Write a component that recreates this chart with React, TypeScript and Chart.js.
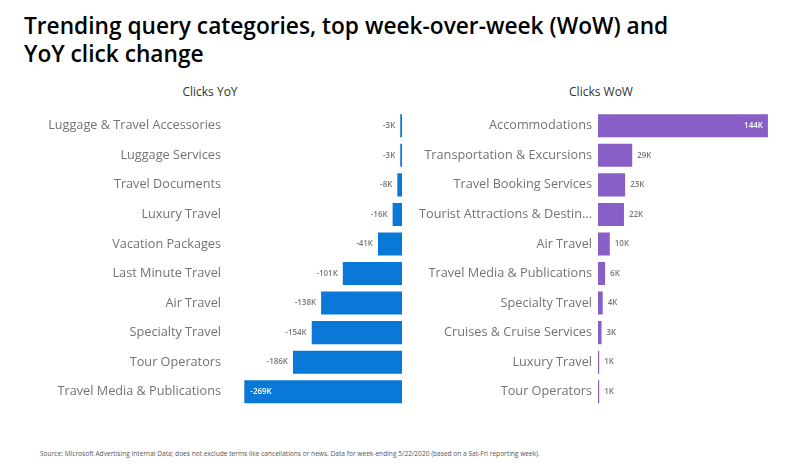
import React, { useEffect, useRef } from "react";
import { Chart, registerables } from "chart.js";

Chart.register(...registerables);

const titleLine1 = "Trending query categories, top week-over-week (WoW) and";
const titleLine2 = "YoY click change";
const yoyTitle = "Clicks YoY";
const wowTitle = "Clicks WoW";
const footnote =
  "Source: Microsoft Advertising Internal Data; does not exclude terms like cancellations or news.  Data for week-ending 5/22/2020 (based on a Sat-Fri reporting week).";

const yoyCategories = [
  "Luggage & Travel Accessories",
  "Luggage Services",
  "Travel Documents",
  "Luxury Travel",
  "Vacation Packages",
  "Last Minute Travel",
  "Air Travel",
  "Specialty Travel",
  "Tour Operators",
  "Travel Media & Publications",
];
const yoyValues = [-3, -3, -8, -16, -41, -101, -138, -154, -186, -269];

const wowCategories = [
  "Accommodations",
  "Transportation & Excursions",
  "Travel Booking Services",
  "Tourist Attractions & Destin...",
  "Air Travel",
  "Travel Media & Publications",
  "Specialty Travel",
  "Cruises & Cruise Services",
  "Luxury Travel",
  "Tour Operators",
];
const wowValues = [144, 29, 23, 22, 10, 6, 4, 3, 1, 1];

const FONT = "'Open Sans', 'Noto Sans', sans-serif";

const valueLabelPlugin = {
  id: "valueLabels",
  afterDatasetsDraw(chart: any) {
    const ctx = chart.ctx;
    const area = chart.chartArea;
    const meta = chart.getDatasetMeta(0);
    const data = chart.data.datasets[0].data as number[];
    ctx.save();
    ctx.font = `600 8px ${FONT}`;
    ctx.textBaseline = "middle";
    meta.data.forEach((bar: any, i: number) => {
      const v = data[i];
      const text = `${v}K`;
      const w = ctx.measureText(text).width;
      const gap = 5;
      if (v < 0) {
        const outsideX = bar.x - gap;
        if (outsideX - w < area.left) {
          ctx.fillStyle = "#ffffff";
          ctx.textAlign = "left";
          ctx.fillText(text, bar.x + gap + 1, bar.y);
        } else {
          ctx.fillStyle = "#777777";
          ctx.textAlign = "right";
          ctx.fillText(text, outsideX, bar.y);
        }
      } else {
        const outsideX = bar.x + gap;
        if (outsideX + w > area.right) {
          ctx.fillStyle = "#ffffff";
          ctx.textAlign = "right";
          ctx.fillText(text, bar.x - gap, bar.y);
        } else {
          ctx.fillStyle = "#777777";
          ctx.textAlign = "left";
          ctx.fillText(text, outsideX, bar.y);
        }
      }
    });
    ctx.restore();
  },
};

function buildConfig(
  labels: string[],
  values: number[],
  color: string,
  min: number,
  max: number,
  yWidth: number,
  tickPad: number,
  padRight: number
): any {
  return {
    type: "bar",
    data: {
      labels,
      datasets: [
        {
          data: values,
          backgroundColor: color,
          borderWidth: 0,
          barPercentage: 0.78,
          categoryPercentage: 1,
        },
      ],
    },
    options: {
      indexAxis: "y",
      animation: false,
      responsive: false,
      maintainAspectRatio: false,
      layout: { padding: { top: 5, bottom: 4.5, left: 0, right: padRight } },
      plugins: {
        legend: { display: false },
        tooltip: { enabled: false },
        title: { display: false },
      },
      scales: {
        x: { display: false, min, max },
        y: {
          grid: { display: false, drawTicks: false },
          border: { display: false },
          ticks: {
            color: "#737373",
            font: { family: FONT, size: 12.7 },
            padding: tickPad,
            autoSkip: false,
          },
          afterFit: (s: any) => {
            s.width = yWidth;
            s.paddingTop = 0;
            s.paddingBottom = 0;
          },
        },
      },
    },
    plugins: [valueLabelPlugin],
  };
}

export default function App() {
  const leftRef = useRef<HTMLCanvasElement>(null);
  const rightRef = useRef<HTMLCanvasElement>(null);

  useEffect(() => {
    const left = new Chart(
      leftRef.current!,
      buildConfig(yoyCategories, yoyValues, "#0a78d6", -290, 0, 212, 11, 8)
    );
    const right = new Chart(
      rightRef.current!,
      buildConfig(wowCategories, wowValues, "#875fc6", 0, 150, 188, 6, 15)
    );
    return () => {
      left.destroy();
      right.destroy();
    };
  }, []);

  return (
    <div
      style={{
        position: "absolute",
        left: 0,
        top: 0,
        width: 800,
        height: 466,
        background: "#ffffff",
        overflow: "hidden",
        fontFamily: FONT,
      }}
    >
      <div
        style={{
          position: "absolute",
          left: 24,
          top: 12,
          fontSize: 22.7,
          fontWeight: 600,
          lineHeight: "28.3px",
          color: "#000",
          whiteSpace: "nowrap",
        }}
      >
        <div>{titleLine1}</div>
        <div>{titleLine2}</div>
      </div>
      <div
        style={{
          position: "absolute",
          left: 110,
          width: 200,
          top: 82.5,
          textAlign: "center",
          fontSize: 12,
          color: "#333",
        }}
      >
        {yoyTitle}
      </div>
      <div
        style={{
          position: "absolute",
          left: 501,
          width: 200,
          top: 82.5,
          textAlign: "center",
          fontSize: 12,
          color: "#333",
        }}
      >
        {wowTitle}
      </div>
      <canvas
        ref={leftRef}
        width={390}
        height={305}
        style={{ position: "absolute", left: 20, top: 105.5 }}
      />
      <canvas
        ref={rightRef}
        width={380}
        height={305}
        style={{ position: "absolute", left: 410, top: 105.5 }}
      />
      <div
        style={{
          position: "absolute",
          left: 40,
          top: 449,
          fontSize: 6.6,
          color: "#555",
          whiteSpace: "nowrap",
        }}
      >
        {footnote}
      </div>
    </div>
  );
}
